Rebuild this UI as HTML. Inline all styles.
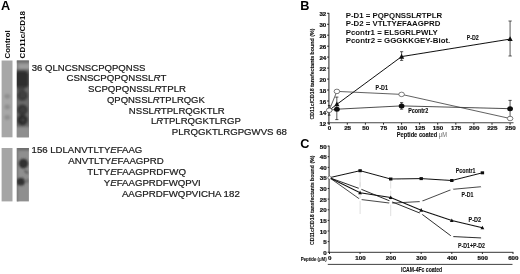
<!DOCTYPE html>
<html><head><meta charset="utf-8"><title>Figure</title>
<style>
html,body{margin:0;padding:0;background:#fff;}
body{width:520px;height:274px;overflow:hidden;}
svg{display:block;font-family:"Liberation Sans",Arial,sans-serif;}
.seq{font-size:9.65px;fill:#1a1a1a;stroke:#1a1a1a;stroke-width:0.22px;}
.b{font-weight:bold;}
.i{font-style:italic;}
.tk{font-size:5.6px;font-weight:bold;fill:#111;stroke:#111;stroke-width:0.2px;}
.lg{font-size:7.85px;font-weight:bold;fill:#111;}
.lb{font-size:6.2px;font-weight:bold;fill:#111;stroke:#111;stroke-width:0.12px;}
</style></head><body>
<svg width="520" height="274" viewBox="0 0 520 274">
<defs>
<filter id="bl" x="-20%" y="-20%" width="140%" height="140%"><feGaussianBlur stdDeviation="1.1"/></filter>
<filter id="bs" x="-5%" y="-5%" width="110%" height="110%"><feGaussianBlur stdDeviation="0.35"/></filter>
<clipPath id="c1"><rect x="16.8" y="60.5" width="12.1" height="76.8"/></clipPath>
<clipPath id="c2"><rect x="16.8" y="148" width="12.1" height="53.4"/></clipPath>
<clipPath id="c3"><rect x="1.6" y="60.5" width="10.9" height="76.8"/></clipPath>
</defs>
<rect width="520" height="274" fill="#fff"/>
<g filter="url(#bs)">

<text x="0.9" y="9.9" class="b" style="font-size:12.7px" fill="#000">A</text>
<text class="b" style="font-size:7.9px" fill="#111" transform="translate(9.7,58.4) rotate(-90)">Control</text>
<text class="b" style="font-size:8.05px" fill="#111" transform="translate(25.2,58.4) rotate(-90)">CD11c/CD18</text>
<rect x="1.6" y="60.5" width="10.9" height="76.8" fill="#a7a7a7"/>
<rect x="1.6" y="148" width="10.9" height="53.4" fill="#a5a5a5"/>
<g clip-path="url(#c3)" filter="url(#bl)">
<ellipse cx="7.2" cy="96.3" rx="2.8" ry="2.4" fill="#8e8e8e"/>
<ellipse cx="7.2" cy="107" rx="2.8" ry="2.4" fill="#8e8e8e"/>
<ellipse cx="7.2" cy="117.4" rx="2.8" ry="2.4" fill="#8e8e8e"/>
</g>
<rect x="16.8" y="60.5" width="12.1" height="76.8" fill="#858585"/>
<g clip-path="url(#c1)"><g filter="url(#bl)">
<rect x="15" y="58" width="16" height="4.6" fill="#6e6e6e"/>
<rect x="18.5" y="63.8" width="13" height="5.6" fill="#9e9e9e"/>
<rect x="15" y="69" width="16" height="58" fill="#6a6a6a"/>
<rect x="15" y="127.5" width="16" height="12" fill="#8e8e8e"/>
<rect x="14.5" y="70.6" width="14.4" height="17.8" rx="4.5" ry="4.5" fill="#343434"/>
<rect x="16" y="72" width="11" height="14" rx="4" ry="4" fill="#2e2e2e"/>
<circle cx="22.4" cy="95.6" r="5.5" fill="#3c3c3c"/>
<circle cx="22.9" cy="95.6" r="1.3" fill="#484848"/>
<circle cx="22.4" cy="109.8" r="5.5" fill="#383838"/>
<circle cx="22.9" cy="109.8" r="1.3" fill="#484848"/>
<circle cx="22.4" cy="120" r="5.5" fill="#2e2e2e"/>
<circle cx="22.9" cy="120" r="1.3" fill="#484848"/>
<ellipse cx="21" cy="89.5" rx="3.5" ry="2.5" fill="#444"/>
</g></g>
<rect x="16.8" y="148" width="12.1" height="53.4" fill="#8f8f8f"/>
<g clip-path="url(#c2)"><g filter="url(#bl)">
<rect x="15" y="146" width="16" height="4.5" fill="#6c6c6c"/>
<rect x="15" y="148" width="3.2" height="56" fill="#7c7c7c"/>
<circle cx="23.4" cy="163.6" r="4.8" fill="#303030"/>
<ellipse cx="26.3" cy="172" rx="2.6" ry="1.1" fill="#555" transform="rotate(40 26.3 172)"/>
<ellipse cx="20.6" cy="181.7" rx="4.3" ry="3.9" fill="#333"/>
<ellipse cx="27.2" cy="181" rx="1.3" ry="2.4" fill="#666" transform="rotate(20 27.2 181)"/>
</g></g>
<text id="s0" class="seq" x="31.7" y="70.6" textLength="113.8" lengthAdjust="spacingAndGlyphs">36 QLNCSNSCPQPQNSS</text>
<text id="s1" class="seq" x="66.5" y="81.3" textLength="99.8" lengthAdjust="spacingAndGlyphs">CSNSCPQPQNSSL<tspan class="i">R</tspan>T</text>
<text id="s2" class="seq" x="88" y="92.0" textLength="98.0" lengthAdjust="spacingAndGlyphs">SCPQPQNSSL<tspan class="i">R</tspan>TPLR</text>
<text id="s3" class="seq" x="107" y="102.7" textLength="97.8" lengthAdjust="spacingAndGlyphs">QPQNSSL<tspan class="i">R</tspan>TPLRQGK</text>
<text id="s4" class="seq" x="128.8" y="113.5" textLength="96.0" lengthAdjust="spacingAndGlyphs">NSSL<tspan class="i">R</tspan>TPLRQGKTLR</text>
<text id="s5" class="seq" x="150.9" y="124.2" textLength="89.9" lengthAdjust="spacingAndGlyphs">L<tspan class="i">R</tspan>TPLRQGKTLRGP</text>
<text id="s6" class="seq" x="171.8" y="134.9" textLength="115.1" lengthAdjust="spacingAndGlyphs">PLRQGKTLRGPGWVS 68</text>
<text id="s7" class="seq" x="31.6" y="153.0" textLength="110.7" lengthAdjust="spacingAndGlyphs">156 LDLANVTLTY<tspan class="i">E</tspan>FAAG</text>
<text id="s8" class="seq" x="68.3" y="164.1" textLength="95.5" lengthAdjust="spacingAndGlyphs">ANVTLTY<tspan class="i">E</tspan>FAAGPRD</text>
<text id="s9" class="seq" x="87.2" y="175.2" textLength="98.8" lengthAdjust="spacingAndGlyphs">TLTY<tspan class="i">E</tspan>FAAGPRDFWQ</text>
<text id="s10" class="seq" x="103.8" y="186.3" textLength="97.0" lengthAdjust="spacingAndGlyphs">Y<tspan class="i">E</tspan>FAAGPRDFWQPVI</text>
<text id="s11" class="seq" x="121.9" y="197.4" textLength="117.9" lengthAdjust="spacingAndGlyphs">AAGPRDFWQPVICHA 182</text>
<text x="300.2" y="9.9" class="b" style="font-size:12.7px" fill="#000">B</text>
<g stroke="#111" stroke-width="0.9" fill="none">
<path d="M328.9 12.9 V124.6"/>
<path d="M328.4 122.8 H513.5" stroke="#444" stroke-width="1.1"/>
<path d="M327.1 122.9 H328.9"/>
<path d="M327.1 111.9 H328.9"/>
<path d="M327.1 101.0 H328.9"/>
<path d="M327.1 90.0 H328.9"/>
<path d="M327.1 79.1 H328.9"/>
<path d="M327.1 68.1 H328.9"/>
<path d="M327.1 57.1 H328.9"/>
<path d="M327.1 46.2 H328.9"/>
<path d="M327.1 35.2 H328.9"/>
<path d="M327.1 24.3 H328.9"/>
<path d="M327.1 13.3 H328.9"/>
<path d="M329.2 122.9 V124.7"/>
<path d="M347.3 122.9 V124.7"/>
<path d="M365.4 122.9 V124.7"/>
<path d="M383.5 122.9 V124.7"/>
<path d="M401.6 122.9 V124.7"/>
<path d="M419.6 122.9 V124.7"/>
<path d="M437.7 122.9 V124.7"/>
<path d="M455.8 122.9 V124.7"/>
<path d="M473.9 122.9 V124.7"/>
<path d="M492.0 122.9 V124.7"/>
<path d="M510.1 122.9 V124.7"/>
</g>
<text class="tk" style="font-size:5.0px" transform="translate(326.3,125.6) scale(1.24,1)" text-anchor="end">12</text>
<text class="tk" style="font-size:5.0px" transform="translate(326.3,114.6) scale(1.24,1)" text-anchor="end">14</text>
<text class="tk" style="font-size:5.0px" transform="translate(326.3,103.7) scale(1.24,1)" text-anchor="end">16</text>
<text class="tk" style="font-size:5.0px" transform="translate(326.3,92.7) scale(1.24,1)" text-anchor="end">18</text>
<text class="tk" style="font-size:5.0px" transform="translate(326.3,81.8) scale(1.24,1)" text-anchor="end">20</text>
<text class="tk" style="font-size:5.0px" transform="translate(326.3,70.8) scale(1.24,1)" text-anchor="end">22</text>
<text class="tk" style="font-size:5.0px" transform="translate(326.3,59.8) scale(1.24,1)" text-anchor="end">24</text>
<text class="tk" style="font-size:5.0px" transform="translate(326.3,48.9) scale(1.24,1)" text-anchor="end">26</text>
<text class="tk" style="font-size:5.0px" transform="translate(326.3,37.9) scale(1.24,1)" text-anchor="end">28</text>
<text class="tk" style="font-size:5.0px" transform="translate(326.3,27.0) scale(1.24,1)" text-anchor="end">30</text>
<text class="tk" style="font-size:5.0px" transform="translate(326.3,16.0) scale(1.24,1)" text-anchor="end">32</text>
<text class="tk" style="font-size:5.0px" transform="translate(329.5,130.2) scale(1.24,1)" text-anchor="middle">0</text>
<text class="tk" style="font-size:5.0px" transform="translate(347.6,130.2) scale(1.24,1)" text-anchor="middle">25</text>
<text class="tk" style="font-size:5.0px" transform="translate(365.7,130.2) scale(1.24,1)" text-anchor="middle">50</text>
<text class="tk" style="font-size:5.0px" transform="translate(383.8,130.2) scale(1.24,1)" text-anchor="middle">75</text>
<text class="tk" style="font-size:5.0px" transform="translate(401.9,130.2) scale(1.24,1)" text-anchor="middle">100</text>
<text class="tk" style="font-size:5.0px" transform="translate(419.9,130.2) scale(1.24,1)" text-anchor="middle">125</text>
<text class="tk" style="font-size:5.0px" transform="translate(438.0,130.2) scale(1.24,1)" text-anchor="middle">150</text>
<text class="tk" style="font-size:5.0px" transform="translate(456.1,130.2) scale(1.24,1)" text-anchor="middle">175</text>
<text class="tk" style="font-size:5.0px" transform="translate(474.2,130.2) scale(1.24,1)" text-anchor="middle">200</text>
<text class="tk" style="font-size:5.0px" transform="translate(492.3,130.2) scale(1.24,1)" text-anchor="middle">225</text>
<text class="tk" style="font-size:5.0px" transform="translate(510.4,130.2) scale(1.24,1)" text-anchor="middle">250</text>
<text class="lb" style="font-size:7px" x="396.7" y="137.1" textLength="50.2" lengthAdjust="spacingAndGlyphs">Peptide coated <tspan style="font-weight:normal;fill:#666;stroke:none">&#956;M</tspan></text>
<text class="lb" style="font-size:5.3px" transform="translate(313.9,119.5) rotate(-90)" textLength="90.9" lengthAdjust="spacingAndGlyphs">CD11c/CD18 tansfectants bound (%)</text>
<text class="lg" x="345.7" y="18.1" textLength="96.5" lengthAdjust="spacingAndGlyphs">P-D1 = PQPQNSSL<tspan class="i">R</tspan>TPLR</text>
<text class="lg" x="345.7" y="26.4" textLength="94.7" lengthAdjust="spacingAndGlyphs">P-D2 = VTLTY<tspan class="i">E</tspan>FAAGPRD</text>
<text class="lg" x="345.7" y="34.7" textLength="92.1" lengthAdjust="spacingAndGlyphs">Pcontr1 = ELSGRLPWLY</text>
<text class="lg" x="345.7" y="43.0" textLength="104.6" lengthAdjust="spacingAndGlyphs">Pcontr2 = GGGKKGEY-Biot.</text>
<polyline points="329.2,110.3 336.9,91.4 401.6,94.4 510.1,118.5" fill="none" stroke="#444" stroke-width="0.85"/>
<polyline points="329.2,110.3 336.9,109.2 401.6,105.9 510.1,108.7" fill="none" stroke="#3a3a3a" stroke-width="0.9"/>
<polyline points="329.2,110.3 336.9,104.3 401.6,56.6 510.1,39.1" fill="none" stroke="#111" stroke-width="1.0"/>
<path d="M336.8 97.1 V119.6 M335.2 97.1 H338.4 M335.2 119.6 H338.4" stroke="#111" stroke-width="0.7" fill="none"/>
<path d="M329.2 105.4 V115.2 M327.9 105.4 H330.5 M327.9 115.2 H330.5" stroke="#111" stroke-width="0.7" fill="none"/>
<path d="M401.6 51.7 V60.4 M400.0 51.7 H403.2 M400.0 60.4 H403.2" stroke="#111" stroke-width="0.7" fill="none"/>
<path d="M510.1 21.0 V56.0 M508.5 21.0 H511.7 M508.5 56.0 H511.7" stroke="#111" stroke-width="0.7" fill="none"/>
<path d="M510.1 100.4 V117.4 M508.5 100.4 H511.7 M508.5 117.4 H511.7" stroke="#111" stroke-width="0.7" fill="none"/>
<path d="M401.6 102.6 V109.2 M400.0 102.6 H403.2 M400.0 109.2 H403.2" stroke="#111" stroke-width="0.7" fill="none"/>
<path d="M336.9 101.4 L339.5 106.3 L334.3 106.3 Z" fill="#111"/>
<path d="M401.6 53.7 L404.2 58.7 L399.0 58.7 Z" fill="#111"/>
<path d="M510.1 36.2 L512.7 41.1 L507.5 41.1 Z" fill="#111"/>
<ellipse cx="336.9" cy="109.2" rx="2.9" ry="2.5" fill="#111"/>
<ellipse cx="401.6" cy="105.9" rx="2.9" ry="2.5" fill="#111"/>
<ellipse cx="510.1" cy="108.7" rx="2.9" ry="2.5" fill="#111"/>
<ellipse cx="329.2" cy="110.3" rx="2.8" ry="2.25" fill="#fff" stroke="#444" stroke-width="0.7"/>
<ellipse cx="336.9" cy="91.4" rx="2.8" ry="2.25" fill="#fff" stroke="#444" stroke-width="0.7"/>
<ellipse cx="401.6" cy="94.4" rx="2.8" ry="2.25" fill="#fff" stroke="#444" stroke-width="0.7"/>
<ellipse cx="510.1" cy="118.5" rx="2.8" ry="2.25" fill="#fff" stroke="#444" stroke-width="0.7"/>
<text class="lb" style="font-size:6.4px" x="466.8" y="40.4" textLength="12" lengthAdjust="spacingAndGlyphs">P-D2</text>
<text class="lb" style="font-size:6.4px" x="375.6" y="90.3" textLength="12.3" lengthAdjust="spacingAndGlyphs">P-D1</text>
<text class="lb" style="font-size:6.4px" x="408.2" y="113.2" textLength="20" lengthAdjust="spacingAndGlyphs">Pcontr2</text>
<text x="300.2" y="148.4" class="b" style="font-size:12.7px" fill="#000">C</text>
<g stroke="#111" stroke-width="0.9" fill="none">
<path d="M329.1 145.7 V252.5"/>
<path d="M328.7 252.3 H513.3" stroke="#333" stroke-width="1"/>
<path d="M327.7 252.2 H329.1"/>
<path d="M327.7 241.6 H329.1"/>
<path d="M327.7 231.0 H329.1"/>
<path d="M327.7 220.4 H329.1"/>
<path d="M327.7 209.8 H329.1"/>
<path d="M327.7 199.1 H329.1"/>
<path d="M327.7 188.5 H329.1"/>
<path d="M327.7 177.9 H329.1"/>
<path d="M327.7 167.3 H329.1"/>
<path d="M327.7 156.7 H329.1"/>
<path d="M327.7 146.1 H329.1"/>
<path d="M327.8 264.4 H512.5" stroke-width="0.8"/>
<path d="M329.5 252.3 V254"/>
<path d="M360.1 252.3 V254"/>
<path d="M390.7 252.3 V254"/>
<path d="M421.2 252.3 V254"/>
<path d="M451.8 252.3 V254"/>
<path d="M482.4 252.3 V254"/>
<path d="M513.0 252.3 V254"/>
</g>
<text class="tk" style="font-size:5.0px" transform="translate(326.6,254.7) scale(1.24,1)" text-anchor="end">0</text>
<text class="tk" style="font-size:5.0px" transform="translate(326.6,244.1) scale(1.24,1)" text-anchor="end">5</text>
<text class="tk" style="font-size:5.0px" transform="translate(326.6,233.5) scale(1.24,1)" text-anchor="end">10</text>
<text class="tk" style="font-size:5.0px" transform="translate(326.6,222.9) scale(1.24,1)" text-anchor="end">15</text>
<text class="tk" style="font-size:5.0px" transform="translate(326.6,212.3) scale(1.24,1)" text-anchor="end">20</text>
<text class="tk" style="font-size:5.0px" transform="translate(326.6,201.6) scale(1.24,1)" text-anchor="end">25</text>
<text class="tk" style="font-size:5.0px" transform="translate(326.6,191.0) scale(1.24,1)" text-anchor="end">30</text>
<text class="tk" style="font-size:5.0px" transform="translate(326.6,180.4) scale(1.24,1)" text-anchor="end">35</text>
<text class="tk" style="font-size:5.0px" transform="translate(326.6,169.8) scale(1.24,1)" text-anchor="end">40</text>
<text class="tk" style="font-size:5.0px" transform="translate(326.6,159.2) scale(1.24,1)" text-anchor="end">45</text>
<text class="tk" style="font-size:5.0px" transform="translate(326.6,148.6) scale(1.24,1)" text-anchor="end">50</text>
<text class="tk" style="font-size:5.0px" transform="translate(329.8,259.7) scale(1.24,1)" text-anchor="middle">0</text>
<text class="tk" style="font-size:5.0px" transform="translate(360.4,259.7) scale(1.24,1)" text-anchor="middle">100</text>
<text class="tk" style="font-size:5.0px" transform="translate(391.0,259.7) scale(1.24,1)" text-anchor="middle">200</text>
<text class="tk" style="font-size:5.0px" transform="translate(421.5,259.7) scale(1.24,1)" text-anchor="middle">300</text>
<text class="tk" style="font-size:5.0px" transform="translate(452.1,259.7) scale(1.24,1)" text-anchor="middle">400</text>
<text class="tk" style="font-size:5.0px" transform="translate(482.7,259.7) scale(1.24,1)" text-anchor="middle">500</text>
<text class="tk" style="font-size:5.0px" transform="translate(513.3,259.7) scale(1.24,1)" text-anchor="middle">600</text>
<text class="lb" style="font-size:5.8px" x="300.8" y="260.8" textLength="25.8" lengthAdjust="spacingAndGlyphs">Peptide (<tspan style="font-weight:normal">&#956;</tspan>M)</text>
<text class="lb" style="font-size:6.8px" x="401" y="271.9" textLength="41.2" lengthAdjust="spacingAndGlyphs">ICAM-4Fc coated</text>
<text class="lb" style="font-size:5.3px" transform="translate(313.6,245.1) rotate(-90)" textLength="89.6" lengthAdjust="spacingAndGlyphs">CD11c/CD18 tansfectants bound (%)</text>
<path d="M360.1 182.2 V214.0" stroke="#d8d8d8" stroke-width="0.8"/>
<path d="M390.7 190.7 V216.1" stroke="#d8d8d8" stroke-width="0.8"/>
<path d="M360.1 171.6 V186.4" stroke="#d8d8d8" stroke-width="0.8"/>
<path d="M390.7 180.1 V188.5" stroke="#d8d8d8" stroke-width="0.8"/>
<polyline points="329.5,177.7 360.1,199.4 390.7,203.2 421.2,201.5 451.8,189.4 482.4,186.6" fill="none" stroke="#333" stroke-width="0.9"/>
<polyline points="329.5,177.7 360.1,188.8 390.7,201.3 421.2,213.6 451.8,236.5 482.4,238.0" fill="none" stroke="#222" stroke-width="0.95"/>
<polyline points="329.5,177.7 360.1,170.7 390.7,179.0 421.2,178.6 451.8,180.5 482.4,172.8" fill="none" stroke="#111" stroke-width="1.0"/>
<polyline points="329.5,177.7 360.1,192.8 390.7,197.5 421.2,210.2 451.8,220.6 482.4,227.8" fill="none" stroke="#111" stroke-width="1.05"/>
<rect x="358.4" y="169.2" width="3.4" height="3" fill="#111"/>
<rect x="389.0" y="177.5" width="3.4" height="3" fill="#111"/>
<rect x="419.5" y="177.1" width="3.4" height="3" fill="#111"/>
<rect x="450.1" y="179.0" width="3.4" height="3" fill="#111"/>
<rect x="480.7" y="171.3" width="3.4" height="3" fill="#111"/>
<path d="M360.1 190.7 L362.0 194.3 L358.2 194.3 Z" fill="#111"/>
<path d="M390.7 195.4 L392.6 199.0 L388.8 199.0 Z" fill="#111"/>
<path d="M421.2 208.1 L423.1 211.7 L419.3 211.7 Z" fill="#111"/>
<path d="M451.8 218.5 L453.7 222.1 L449.9 222.1 Z" fill="#111"/>
<path d="M482.4 225.7 L484.3 229.3 L480.5 229.3 Z" fill="#111"/>
<circle cx="360.1" cy="199.4" r="1.5" fill="#fff"/>
<circle cx="390.7" cy="203.2" r="1.5" fill="#fff"/>
<circle cx="421.2" cy="201.5" r="1.5" fill="#fff"/>
<circle cx="451.8" cy="189.4" r="1.5" fill="#fff"/>
<circle cx="482.4" cy="186.6" r="1.5" fill="#fff"/>
<circle cx="360.1" cy="188.8" r="1.5" fill="#fff"/>
<circle cx="390.7" cy="201.3" r="1.5" fill="#fff"/>
<circle cx="421.2" cy="213.6" r="1.5" fill="#fff"/>
<circle cx="451.8" cy="236.5" r="1.5" fill="#fff"/>
<circle cx="482.4" cy="238.0" r="1.5" fill="#fff"/>
<circle cx="329.5" cy="177.7" r="1.6" fill="#fff" stroke="#333" stroke-width="0.5"/>
<text class="lb" style="font-size:7px" x="455.8" y="173.3" textLength="19.7" lengthAdjust="spacingAndGlyphs">Pcontr1</text>
<text class="lb" style="font-size:7px" x="461.5" y="196.8" textLength="11.8" lengthAdjust="spacingAndGlyphs">P-D1</text>
<text class="lb" style="font-size:7px" x="468.5" y="222.1" textLength="12.6" lengthAdjust="spacingAndGlyphs">P-D2</text>
<text class="lb" style="font-size:7px" x="458" y="248.3" textLength="26.9" lengthAdjust="spacingAndGlyphs">P-D1+P-D2</text>
</g></svg></body></html>
